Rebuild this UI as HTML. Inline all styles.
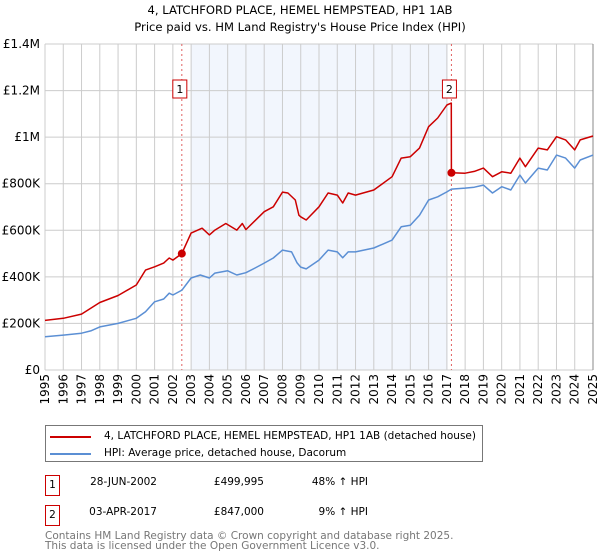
<!DOCTYPE html>
<html><head><meta charset="utf-8"><style>
body{margin:0;width:600px;height:560px;background:#fff;font-family:"DejaVu Sans","Liberation Sans",sans-serif;overflow:hidden;position:relative}
.t{position:absolute;font-size:10.5px;color:#000;white-space:nowrap}
</style></head><body>
<svg id="c" width="600" height="420" style="position:absolute;left:0;top:0" font-family="DejaVu Sans, Liberation Sans, sans-serif">
<text x="300" y="14" text-anchor="middle" font-size="11.6">4, LATCHFORD PLACE, HEMEL HEMPSTEAD, HP1 1AB</text>
<text x="300" y="31" text-anchor="middle" font-size="11.6">Price paid vs. HM Land Registry's House Price Index (HPI)</text>
</svg>
<div style="position:absolute;left:45px;top:425px;width:436px;height:35px;border:1px solid #777">
<div style="position:absolute;left:4px;top:3px"><span style="position:absolute;left:0;top:7px;width:41px;height:2px;background:#cc0000"></span><span class="t" style="left:54px;top:1px">4, LATCHFORD PLACE, HEMEL HEMPSTEAD, HP1 1AB (detached house)</span></div>
<div style="position:absolute;left:4px;top:20px"><span style="position:absolute;left:0;top:7px;width:41px;height:2px;background:#5b8fd4"></span><span class="t" style="left:54px;top:1px">HPI: Average price, detached house, Dacorum</span></div>
</div>
<div>
<div class="t" style="left:45px;top:475px;width:13px;height:19px;border:1px solid #cc0000;text-align:center;line-height:19px">1</div>
<div class="t" style="left:60px;top:476px;width:97px;text-align:right">28-JUN-2002</div>
<div class="t" style="left:160px;top:476px;width:104px;text-align:right">£499,995</div>
<div class="t" style="left:280px;top:476px;width:88px;text-align:right">48% ↑ HPI</div>
</div>
<div>
<div class="t" style="left:45px;top:505px;width:13px;height:19px;border:1px solid #cc0000;text-align:center;line-height:19px">2</div>
<div class="t" style="left:60px;top:506px;width:97px;text-align:right">03-APR-2017</div>
<div class="t" style="left:160px;top:506px;width:104px;text-align:right">£847,000</div>
<div class="t" style="left:280px;top:506px;width:88px;text-align:right">9% ↑ HPI</div>
</div>
<div class="t" style="left:45px;top:531px;color:#777;font-size:10.5px;line-height:10px">Contains HM Land Registry data © Crown copyright and database right 2025.<br>This data is licensed under the Open Government Licence v3.0.</div>
<script>
const hpiYears=[1995,1996,1997,1997.5,1998,1999,2000,2000.5,2001,2001.5,2001.8,2002,2002.5,2003,2003.5,2004,2004.3,2005,2005.5,2006,2006.5,2007,2007.5,2008,2008.5,2008.8,2009,2009.3,2010,2010.5,2011,2011.3,2011.6,2012,2013,2014,2014.5,2015,2015.5,2016,2016.5,2017,2017.25,2018,2018.5,2019,2019.5,2020,2020.5,2021,2021.3,2022,2022.5,2023,2023.5,2024,2024.3,2025];
const hpiValues=[143,150,158,168,185,200,222,250,293,305,330,322,343,395,408,395,416,426,408,418,438,459,481,515,507,460,442,434,472,515,507,482,507,507,524,558,615,622,665,730,744,765,777,781,785,794,760,787,773,837,803,867,859,923,910,867,902,923];
const priceYears=[1995,1996,1997,1998,1999,2000,2000.5,2001,2001.5,2001.8,2002,2002.49,2003,2003.6,2004,2004.3,2004.9,2005.5,2005.8,2006,2007,2007.5,2008,2008.3,2008.7,2008.9,2009,2009.3,2010,2010.5,2011,2011.3,2011.6,2012,2013,2014,2014.5,2015,2015.5,2016,2016.5,2017,2017.24,2017.25,2018,2018.5,2019,2019.5,2020,2020.5,2021,2021.3,2022,2022.5,2023,2023.5,2024,2024.3,2025];
const priceValues=[213,222,240,290,320,365,429,443,459,481,472,500,588,609,580,601,629,601,629,603,680,701,764,760,730,665,658,644,701,760,751,717,760,751,773,830,910,916,953,1045,1082,1138,1146,847,845,853,867,830,851,845,910,873,953,945,1002,988,945,988,1005];
const saleYears=[2002.49,2017.25];
const saleValues=[499.995,847];
const saleLabels=["1","2"];
const yTicks=[0,200,400,600,800,1000,1200,1400];
const yTickLabels=["£0","£200K","£400K","£600K","£800K","£1M","£1.2M","£1.4M"];
const xTicks=[];for(let y=1995;y<=2025;y++)xTicks.push(y);
const L=45,R=593,T=44,B=370;
const xs=y=>L+(y-1995)*(R-L)/30;
const ys=v=>B-v*(B-T)/1400;
const svg=document.getElementById('c');const NS='http://www.w3.org/2000/svg';
function mk(t,a){const e=document.createElementNS(NS,t);for(const k in a)e.setAttribute(k,a[k]);svg.appendChild(e);return e;}
let e=mk('rect',{x:xs(2003),y:T,width:xs(2017.05)-xs(2003),height:B-T,fill:'#eef3fc',opacity:0.75});


xTicks.forEach(y=>{const g=mk('line',{x1:xs(y),x2:xs(y),y1:T,y2:B,stroke:'#cccccc','stroke-width':1});


const t=mk('text',{x:0,y:0,'font-size':12,'text-anchor':'end',transform:`translate(${xs(y)+4},374) rotate(-90)`});t.textContent=y;

});
yTicks.forEach((v,i)=>{const g=mk('line',{x1:L,x2:R,y1:ys(v),y2:ys(v),stroke:'#cccccc','stroke-width':1});


const t=mk('text',{x:40,y:ys(v)+4,'font-size':12,'text-anchor':'end'});t.textContent=yTickLabels[i];

});
e=mk('line',{x1:R,x2:R,y1:T,y2:B,stroke:'#888','stroke-width':1});


saleYears.forEach((y,i)=>{const l=mk('line',{x1:xs(y),x2:xs(y),y1:T,y2:B,stroke:'#e06060','stroke-width':1,'stroke-dasharray':'2,3'});

});
function path(xa,va,col,name){const d=xa.map((y,i)=>(i?'L':'M')+xs(y).toFixed(1)+','+ys(va[i]).toFixed(1)).join('');
const p=mk('path',{d:d,fill:'none',stroke:col,'stroke-width':1.5,'stroke-linejoin':'round'});

}
path(hpiYears,hpiValues,'#5b8fd4','hpi-line');
path(priceYears,priceValues,'#cc0000','price-line');
saleYears.forEach((y,i)=>{const c=mk('circle',{cx:xs(y),cy:ys(saleValues[i]),r:4,fill:'#cc0000'});


const bx=xs(y)-8;const r=mk('rect',{x:bx-1,y:80,width:14,height:18,fill:'#fff',stroke:'#cc0000'});


const t=mk('text',{x:bx+6,y:93,'font-size':11,'text-anchor':'middle'});t.textContent=saleLabels[i];

});
</script>
</body></html>
